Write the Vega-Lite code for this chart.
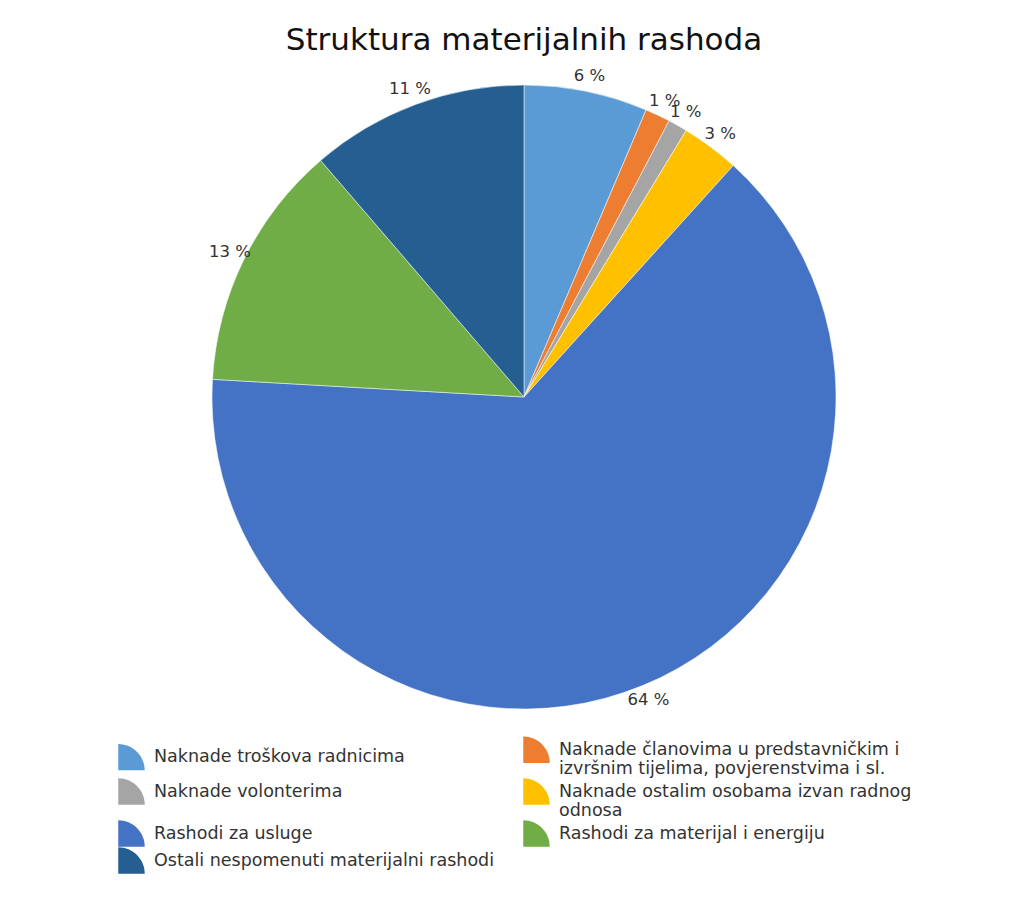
{
  "$schema": "https://vega.github.io/schema/vega-lite/v6.json",
  "width": 1000,
  "height": 654,
  "autosize": "none",
  "padding": {"left": 24, "top": 70, "right": 0, "bottom": 194},
  "background": "white",
  "title": {
    "text": "Struktura materijalnih rashoda",
    "font": "DejaVu Sans",
    "fontSize": 31,
    "fontWeight": "normal",
    "color": "#111111",
    "anchor": "middle",
    "frame": "group",
    "offset": 11
  },
  "config": {"view": {"stroke": null}},
  "data": {
    "values": [
      {"idx": 1, "cat": "Naknade troškova radnicima", "value": 6.4, "label": "6 %"},
      {"idx": 2, "cat": "Naknade članovima u predstavničkim i izvršnim tijelima, povjerenstvima i sl.", "value": 1.3, "label": "1 %"},
      {"idx": 3, "cat": "Naknade volonterima", "value": 1.0, "label": "1 %"},
      {"idx": 4, "cat": "Naknade ostalim osobama izvan radnog odnosa", "value": 3.0, "label": "3 %"},
      {"idx": 5, "cat": "Rashodi za usluge", "value": 64.2, "label": "64 %"},
      {"idx": 6, "cat": "Rashodi za materijal i energiju", "value": 12.8, "label": "13 %"},
      {"idx": 7, "cat": "Ostali nespomenuti materijalni rashodi", "value": 11.3, "label": "11 %"}
    ]
  },
  "encoding": {
    "theta": {"field": "value", "type": "quantitative", "stack": true},
    "order": {"field": "idx", "type": "ordinal"}
  },
  "layer": [
    {
      "mark": {"type": "arc", "outerRadius": 312, "stroke": "white", "strokeWidth": 0.5},
      "encoding": {
        "color": {
          "field": "cat",
          "type": "nominal",
          "scale": {
            "domain": [
              "Naknade troškova radnicima",
              "Naknade članovima u predstavničkim i izvršnim tijelima, povjerenstvima i sl.",
              "Naknade volonterima",
              "Naknade ostalim osobama izvan radnog odnosa",
              "Rashodi za usluge",
              "Rashodi za materijal i energiju",
              "Ostali nespomenuti materijalni rashodi"
            ],
            "range": ["#5B9BD5", "#ED7D31", "#A5A5A5", "#FFC000", "#4472C4", "#70AD47", "#255E91"]
          },
          "legend": {
            "orient": "none",
            "direction": "horizontal",
            "legendX": 94,
            "legendY": 666,
            "columns": 2,
            "title": null,
            "symbolType": "M-1,1L-1,-1A2,2,0,0,1,1,1Z",
            "symbolSize": 700,
            "symbolStrokeWidth": 0,
            "symbolOpacity": 1,
            "labelFont": "DejaVu Sans",
            "labelFontSize": 17.5,
            "labelColor": "#333333",
            "labelLimit": 480,
            "labelOffset": 9,
            "columnPadding": 28,
            "rowPadding": 0,
            "labelExpr": "length(datum.label) > 38 ? [substring(datum.label, 0, lastindexof(substring(datum.label, 0, 38), ' ')), substring(datum.label, lastindexof(substring(datum.label, 0, 38), ' ') + 1)] : datum.label"
          }
        }
      }
    },
    {
      "mark": {"type": "text", "radius": 328, "font": "DejaVu Sans", "fontSize": 16.5, "fill": "#333333"},
      "encoding": {
        "text": {"field": "label", "type": "nominal"},
        "detail": {"field": "cat", "type": "nominal"}
      }
    }
  ]
}
